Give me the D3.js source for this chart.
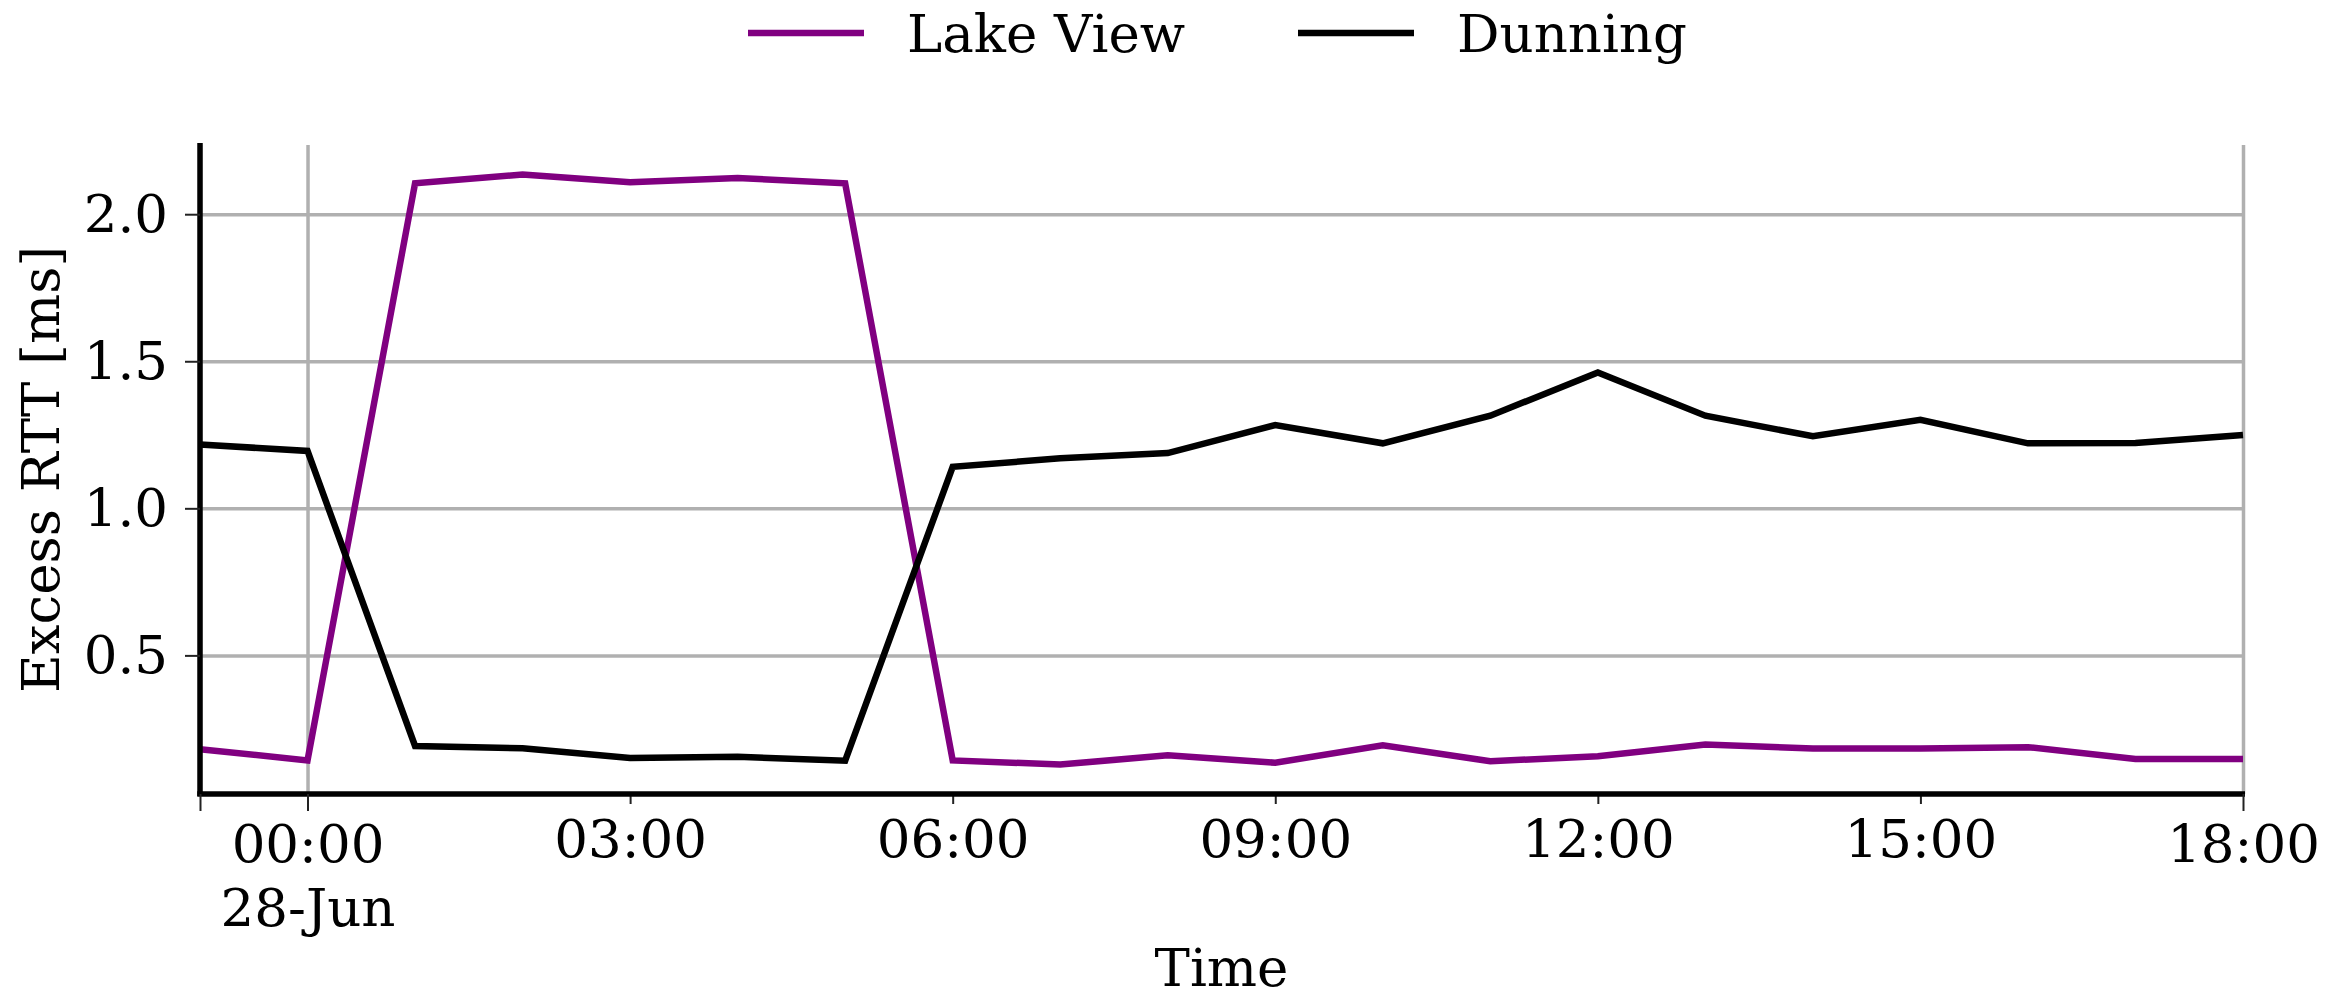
<!DOCTYPE html>
<html>
<head>
<meta charset="utf-8">
<script src="https://cdn.jsdelivr.net/npm/d3@7"></script>
<style>
  html, body { margin: 0; padding: 0; background: #fff; }
  svg { display: block; }
  text { font-family: "DejaVu Serif", serif; fill: #000; }
</style>
</head>
<body>
<svg id="chart" width="2351" height="999"></svg>
<script>
// Hourly samples of excess round-trip time for two neighbourhoods
const times = [
  "2021-06-27T23:00", "2021-06-28T00:00", "2021-06-28T01:00", "2021-06-28T02:00",
  "2021-06-28T03:00", "2021-06-28T04:00", "2021-06-28T05:00", "2021-06-28T06:00",
  "2021-06-28T07:00", "2021-06-28T08:00", "2021-06-28T09:00", "2021-06-28T10:00",
  "2021-06-28T11:00", "2021-06-28T12:00", "2021-06-28T13:00", "2021-06-28T14:00",
  "2021-06-28T15:00", "2021-06-28T16:00", "2021-06-28T17:00", "2021-06-28T18:00"
];
const lakeView = [0.181, 0.143, 2.105, 2.135, 2.109, 2.123, 2.105, 0.143, 0.129, 0.160,
                  0.135, 0.194, 0.140, 0.157, 0.197, 0.183, 0.183, 0.188, 0.148, 0.148];
const dunning  = [1.217, 1.195, 0.192, 0.184, 0.151, 0.155, 0.142, 1.141, 1.170, 1.188,
                  1.283, 1.221, 1.315, 1.462, 1.315, 1.245, 1.301, 1.221, 1.222, 1.249];

const seriesNames = ["Lake View", "Dunning"];
const seriesColors = ["#800080", "#000000"];

// Axis ticks
const yTicks = [0.5, 1.0, 1.5, 2.0];
const majorTicks = ["2021-06-27T23:00", "2021-06-28T00:00", "2021-06-28T18:00"];
const majorLabels = ["", "00:00\n28-Jun", "18:00"];
const minorTicks = ["2021-06-28T03:00", "2021-06-28T06:00", "2021-06-28T09:00",
                    "2021-06-28T12:00", "2021-06-28T15:00"];
const minorLabels = ["03:00", "06:00", "09:00", "12:00", "15:00"];
const xTitle = "Time";
const yTitle = "Excess RTT [ms]";

const parse = d3.timeParse("%Y-%m-%dT%H:%M");
const dates = times.map(parse);
const majorDates = majorTicks.map(parse);
const minorDates = minorTicks.map(parse);

const FS = 53;
const plotL = 200, plotR = 2243, plotT = 145, plotB = 794;

const svg = d3.select("#chart");

const x = d3.scaleTime()
  .domain(d3.extent(dates))
  .range([plotL, plotR]);

// y limits padded 5% around the data
const allVals = lakeView.concat(dunning);
const vMin = d3.min(allVals), vMax = d3.max(allVals);
const pad = (vMax - vMin) * 0.05;
const y = d3.scaleLinear()
  .domain([vMin - pad, vMax + pad])
  .range([plotB, plotT]);

// Horizontal grid
const gy = svg.append("g")
  .attr("transform", `translate(${plotL},0)`)
  .call(d3.axisLeft(y).tickValues(yTicks).tickSize(-(plotR - plotL)).tickFormat(""));
gy.select(".domain").remove();
gy.selectAll("line").attr("stroke", "#b0b0b0").attr("stroke-width", 3.5);

// Vertical grid at the major ticks
const gx = svg.append("g")
  .attr("transform", `translate(0,${plotB})`)
  .call(d3.axisBottom(x).tickValues(majorDates).tickSize(-(plotB - plotT)).tickFormat(""));
gx.select(".domain").remove();
gx.selectAll("line").attr("stroke", "#b0b0b0").attr("stroke-width", 3.5);

// Series lines
const series = [lakeView, dunning];
const line = d3.line()
  .x((d, i) => x(dates[i]))
  .y(d => y(d));

series.forEach((vals, k) => {
  svg.append("path")
    .datum(vals)
    .attr("fill", "none")
    .attr("stroke", seriesColors[k])
    .attr("stroke-width", 6.5)
    .attr("stroke-linejoin", "miter")
    .attr("d", line);
});

// Y axis
const yAxis = svg.append("g")
  .attr("transform", `translate(${plotL},0)`)
  .call(d3.axisLeft(y).tickValues(yTicks).tickSize(15).tickSizeOuter(0)
        .tickPadding(17).tickFormat(d3.format(".1f")));
yAxis.select(".domain").attr("stroke", "#000").attr("stroke-width", 5.5)
  .attr("d", `M0,${plotT - 2}V${plotB + 2}`);
yAxis.selectAll(".tick line").attr("stroke", "#222").attr("stroke-width", 2);
yAxis.selectAll(".tick text").attr("font-size", FS).attr("font-family", "DejaVu Serif");

// X axis: minor ticks
const xMinor = svg.append("g")
  .attr("transform", `translate(0,${plotB})`)
  .call(d3.axisBottom(x).tickValues(minorDates).tickSize(10).tickSizeOuter(0)
        .tickFormat((d, i) => minorLabels[i]));
xMinor.select(".domain").remove();
xMinor.selectAll(".tick line").attr("stroke", "#222").attr("stroke-width", 2);
xMinor.selectAll(".tick text")
  .attr("font-size", FS).attr("font-family", "DejaVu Serif")
  .attr("y", 63).attr("dy", 0);

// X axis: major ticks with two-line labels
const xMajor = svg.append("g")
  .attr("transform", `translate(0,${plotB})`)
  .call(d3.axisBottom(x).tickValues(majorDates).tickSize(17).tickSizeOuter(0)
        .tickFormat(""));
xMajor.select(".domain").attr("stroke", "#000").attr("stroke-width", 5.5)
  .attr("d", `M${plotL - 2.75},0H${plotR + 2}`);
xMajor.selectAll(".tick line").attr("stroke", "#222").attr("stroke-width", 2);
xMajor.selectAll(".tick text").each(function(d, i) {
  const t = d3.select(this).attr("font-size", FS).attr("font-family", "DejaVu Serif")
    .attr("y", 0).attr("dy", 0).text(null);
  majorLabels[i].split("\n").forEach((s, j) => {
    if (!s) return;
    t.append("tspan").attr("x", 0).attr("y", 68 + j * 64).text(s);
  });
});

// Axis titles
svg.append("text")
  .attr("x", (plotL + plotR) / 2).attr("y", 986)
  .attr("text-anchor", "middle").attr("font-size", FS)
  .text(xTitle);

svg.append("text")
  .attr("transform", `translate(59,${(plotT + plotB) / 2}) rotate(-90)`)
  .attr("text-anchor", "middle").attr("font-size", FS)
  .text(yTitle);

// Legend
const legendX = [748, 1298];
const legend = svg.append("g");
seriesNames.forEach((name, k) => {
  legend.append("line")
    .attr("x1", legendX[k]).attr("x2", legendX[k] + 116)
    .attr("y1", 33).attr("y2", 33)
    .attr("stroke", seriesColors[k]).attr("stroke-width", 6.5);
  legend.append("text")
    .attr("x", legendX[k] + 159).attr("y", 52)
    .attr("font-size", FS)
    .text(name);
});
</script>
</body>
</html>
